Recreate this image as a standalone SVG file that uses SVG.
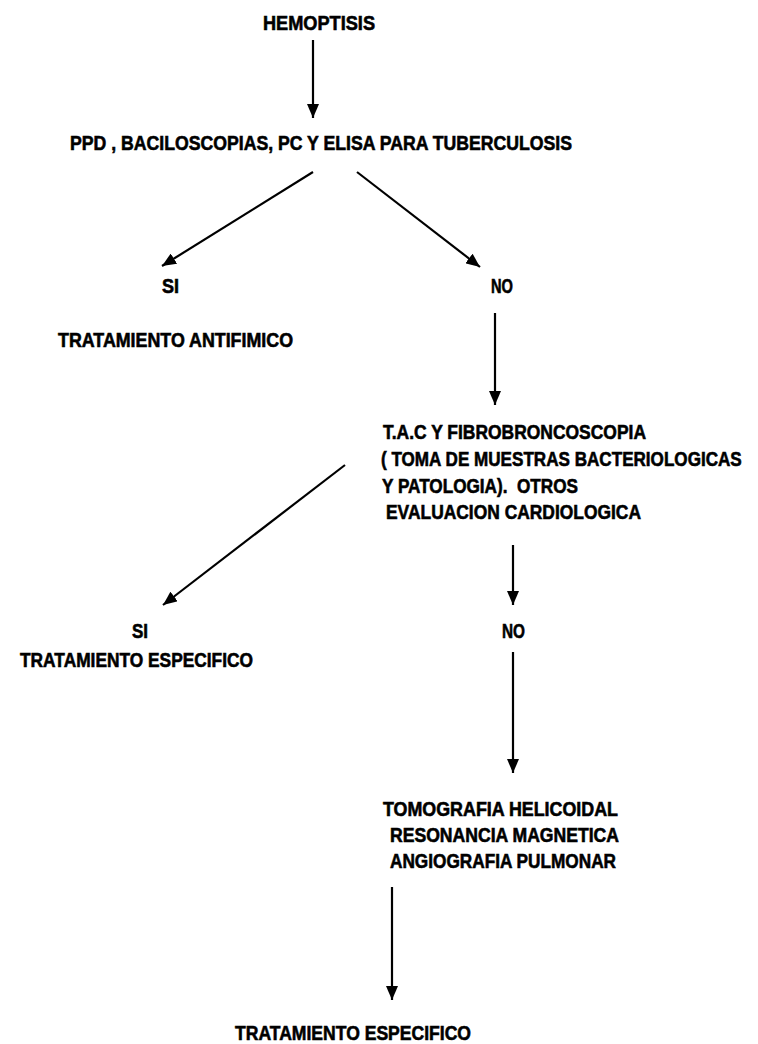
<svg xmlns="http://www.w3.org/2000/svg" width="758" height="1044" viewBox="0 0 758 1044">
  <style>
    text { font-family: "Liberation Sans", Arial, sans-serif; font-weight: bold; font-size: 20px; fill: #000; stroke: #000; stroke-width: 0.6; white-space: pre; }
    .conn { stroke: #000; stroke-width: 2.2; fill: none; marker-end: url(#arrow); }
  </style>
  <defs>
    <marker id="arrow" markerUnits="userSpaceOnUse" markerWidth="15" markerHeight="12" refX="14" refY="6" orient="auto">
      <path d="M0,0 L14,6 L0,12 z" fill="#000"/>
    </marker>
  </defs>
  <rect width="758" height="1044" fill="#fff"/>

  <g id="connectors">
    <line class="conn" x1="313" y1="40" x2="313" y2="118"/>
    <line class="conn" x1="313" y1="172" x2="162" y2="266"/>
    <line class="conn" x1="357" y1="172" x2="480" y2="267"/>
    <line class="conn" x1="495" y1="313" x2="495" y2="405"/>
    <line class="conn" x1="345" y1="465" x2="163" y2="605"/>
    <line class="conn" x1="513" y1="545" x2="513" y2="605"/>
    <line class="conn" x1="513" y1="652" x2="513" y2="773"/>
    <line class="conn" x1="392" y1="887" x2="392" y2="1000"/>
  </g>

  <g id="hemoptisis">
    <text x="263" y="30" textLength="112" lengthAdjust="spacingAndGlyphs">HEMOPTISIS</text>
  </g>
  <g id="pruebas">
    <text x="70" y="150" textLength="502" lengthAdjust="spacingAndGlyphs">PPD , BACILOSCOPIAS, PC Y ELISA PARA TUBERCULOSIS</text>
  </g>
  <g id="si1">
    <text x="162" y="293" textLength="17" lengthAdjust="spacingAndGlyphs">SI</text>
  </g>
  <g id="no1">
    <text x="491" y="293" textLength="22" lengthAdjust="spacingAndGlyphs">NO</text>
  </g>
  <g id="antifimico">
    <text x="58" y="347" textLength="235" lengthAdjust="spacingAndGlyphs">TRATAMIENTO ANTIFIMICO</text>
  </g>
  <g id="tac">
    <text x="383" y="439" textLength="263" lengthAdjust="spacingAndGlyphs">T.A.C Y FIBROBRONCOSCOPIA</text>
    <text transform="translate(381,466) scale(0.855,1)" x="0" y="0">( TOMA DE MUESTRAS BACTERIOLOGICAS</text>
    <text x="382" y="493" textLength="196" lengthAdjust="spacingAndGlyphs">Y PATOLOGIA).  OTROS</text>
    <text x="386" y="519" textLength="255" lengthAdjust="spacingAndGlyphs">EVALUACION CARDIOLOGICA</text>
  </g>
  <g id="si2">
    <text x="132" y="638" textLength="16" lengthAdjust="spacingAndGlyphs">SI</text>
    <text x="20" y="667" textLength="233" lengthAdjust="spacingAndGlyphs">TRATAMIENTO ESPECIFICO</text>
  </g>
  <g id="no2">
    <text x="502" y="638" textLength="23" lengthAdjust="spacingAndGlyphs">NO</text>
  </g>
  <g id="imagenes">
    <text x="383" y="816" textLength="235" lengthAdjust="spacingAndGlyphs">TOMOGRAFIA HELICOIDAL</text>
    <text x="390" y="842" textLength="229" lengthAdjust="spacingAndGlyphs">RESONANCIA MAGNETICA</text>
    <text x="390" y="868" textLength="226" lengthAdjust="spacingAndGlyphs">ANGIOGRAFIA PULMONAR</text>
  </g>
  <g id="tratamiento-final">
    <text x="235" y="1040" textLength="236" lengthAdjust="spacingAndGlyphs">TRATAMIENTO ESPECIFICO</text>
  </g>
</svg>
